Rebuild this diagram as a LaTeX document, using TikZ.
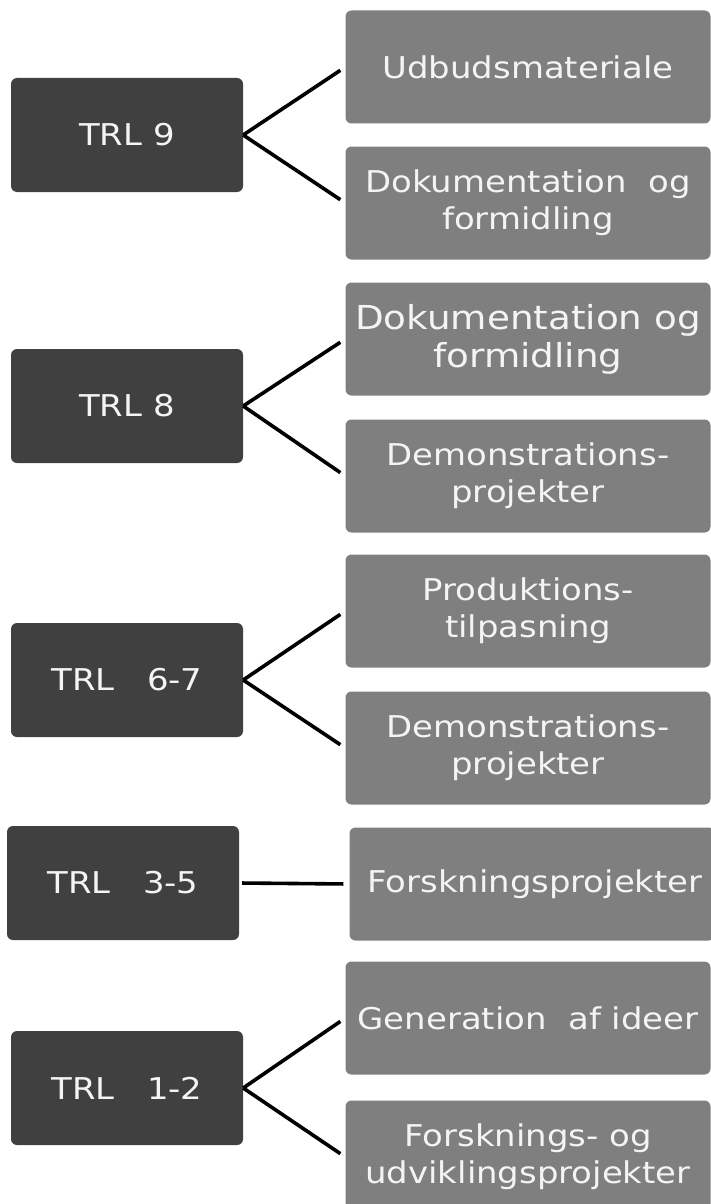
\documentclass[tikz,border=0pt]{standalone}
\usepackage{fontspec}
\setmainfont[FakeStretch=1.13]{DejaVu Sans}
\definecolor{darkbox}{HTML}{404040}
\definecolor{lightbox}{HTML}{7F7F7F}
\definecolor{boxtext}{HTML}{F4F4F4}
\begin{document}
\begin{tikzpicture}[x=1pt,y=-1pt,
  trlbox/.style={fill=darkbox,draw=none,rounded corners=6pt,minimum width=232pt,minimum height=114pt,inner sep=0pt,text=boxtext,font=\fontsize{30}{37}\selectfont},
  actbox/.style={fill=lightbox,draw=none,rounded corners=6pt,minimum width=365pt,minimum height=113pt,inner sep=0pt,text=boxtext,align=center,font=\fontsize{30}{37}\selectfont},
  link/.style={line width=3.6pt,black,shorten >=6pt}]
\useasboundingbox (0,0) rectangle (711,1204);
% left boxes
\node[trlbox] (t9) at (127,135) {TRL 9};
\node[trlbox] (t8) at (127,406) {TRL 8};
\node[trlbox] (t67) at (127,680) {TRL\ \ \ 6-7};
\node[trlbox] (t35) at (123,883) {TRL\ \ \ 3-5};
\node[trlbox] (t12) at (127,1088) {TRL\ \ \ 1-2};
% right boxes
\node[actbox] (a1) at (528,67) {Udbudsmateriale};
\node[actbox] (a2) at (528,203) {Dokumentation\ \ og\\formidling};
\node[actbox,font=\fontsize{33}{38}\selectfont] (a3) at (528,339) {Dokumentation og\\formidling};
\node[actbox] (a4) at (528,476) {Demonstrations-\\projekter};
\node[actbox] (a5) at (528,611) {Produktions-\\tilpasning};
\node[actbox] (a6) at (528,748) {Demonstrations-\\projekter};
\node[actbox] (a7) at (532,884) {\hspace*{6pt}Forskningsprojekter};
\node[actbox] (a8) at (528,1018) {Generation\ \ af ideer};
\node[actbox] (a9) at (528,1157) {Forsknings- og\\udviklingsprojekter};
% connectors
\draw[link] (t9.east) -- (a1.west);
\draw[link] (t9.east) -- (a2.west);
\draw[link] (t8.east) -- (a3.west);
\draw[link] (t8.east) -- (a4.west);
\draw[link] (t67.east) -- (a5.west);
\draw[link] (t67.east) -- (a6.west);
\draw[link,shorten <=3pt] (t35.east) -- (a7.west);
\draw[link] (t12.east) -- (a8.west);
\draw[link] (t12.east) -- (a9.west);
\end{tikzpicture}
\end{document}
